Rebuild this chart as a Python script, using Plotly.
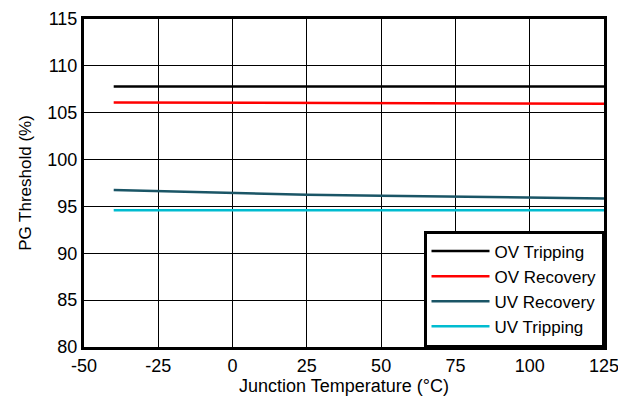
import plotly.graph_objects as go

temps = [-40, 0, 25, 50, 75, 100, 125]
ov_tripping = [107.8, 107.8, 107.8, 107.8, 107.8, 107.8, 107.8]
ov_recovery = [106.1, 106.05, 106.02, 106.0, 105.98, 105.95, 105.95]
uv_recovery = [96.75, 96.4, 96.25, 96.15, 96.05, 95.95, 95.85]
uv_tripping = [94.6, 94.6, 94.6, 94.6, 94.6, 94.6, 94.6]

x_ticks = [-50, -25, 0, 25, 50, 75, 100, 125]
x_labels = ["-50", "-25", "0", "25", "50", "75", "100", "125"]
y_ticks = [80, 85, 90, 95, 100, 105, 110, 115]

series = [
    ("OV Tripping", ov_tripping, "#000000"),
    ("OV Recovery", ov_recovery, "#ff0000"),
    ("UV Recovery", uv_recovery, "#1a5566"),
    ("UV Tripping", uv_tripping, "#00bcd0"),
]

fam = "Liberation Sans, Arial, sans-serif"
fig = go.Figure()
for name, vals, col in series:
    fig.add_trace(go.Scatter(x=temps, y=vals, mode="lines", name=name,
                             line=dict(color=col, width=2.5)))

fig.update_layout(
    template="none",
    width=618, height=396,
    margin=dict(l=84, r=14, t=19, b=49, autoexpand=False),
    paper_bgcolor="white", plot_bgcolor="white",
    font=dict(family=fam, size=17, color="#000000"),
    legend=dict(x=1, y=0, xanchor="right", yanchor="bottom",
                bgcolor="white", bordercolor="black", borderwidth=2.5,
                font=dict(family=fam, size=17, color="#000000"),
                tracegroupgap=0, itemwidth=58),
    xaxis=dict(range=[-50, 125], tickvals=x_ticks, ticktext=x_labels,
               tickfont=dict(family=fam, size=18, color="#000000"),
               ticklabeloverflow="allow", automargin=False,
               showgrid=True, gridcolor="#000000", gridwidth=1,
               showline=True, linecolor="black", linewidth=3, mirror=True,
               ticks="", zeroline=False,
               title=dict(text="Junction Temperature (°C)", standoff=3,
                          font=dict(family=fam, size=18, color="#000000"))),
    yaxis=dict(range=[80, 115], tickvals=y_ticks,
               tickfont=dict(family=fam, size=18, color="#000000"),
               ticklabeloverflow="allow", automargin=False,
               showgrid=True, gridcolor="#000000", gridwidth=1,
               showline=True, linecolor="black", linewidth=3, mirror=True,
               ticks="", zeroline=False,
               title=dict(text="PG Threshold (%)", standoff=12,
                          font=dict(family=fam, size=17, color="#000000"))),
)
fig.write_html("out.html", config={"displayModeBar": False},
               post_script="document.body.style.margin='0';document.body.style.overflow='hidden';")
